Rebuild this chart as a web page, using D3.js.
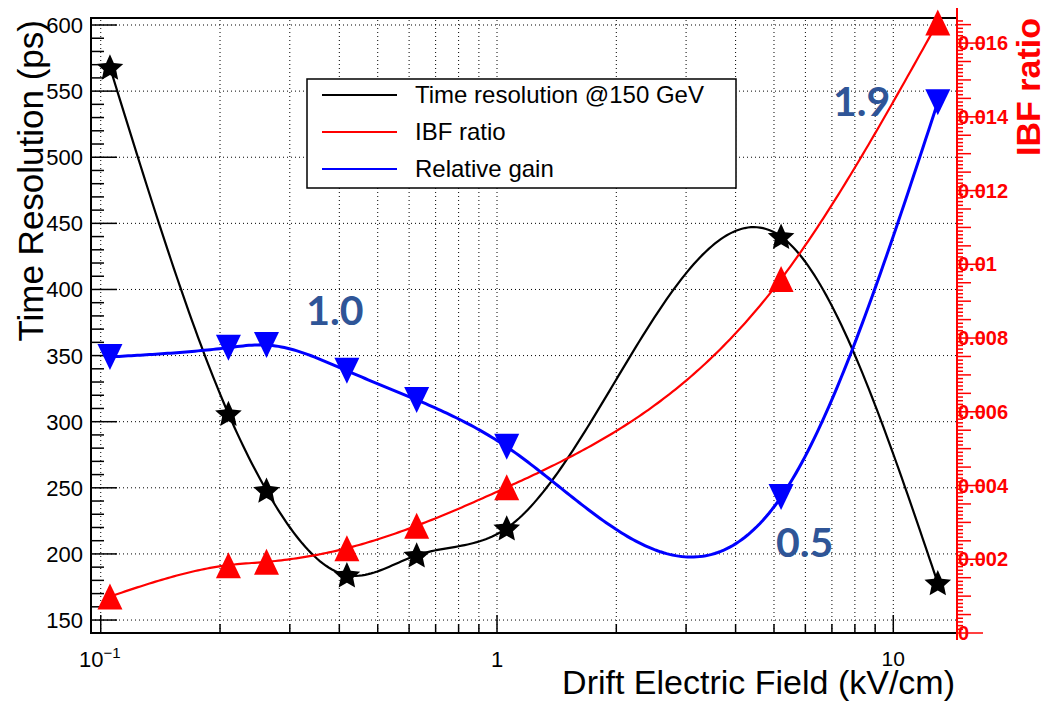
<!DOCTYPE html>
<html>
<head>
<meta charset="utf-8">
<script src="https://cdn.jsdelivr.net/npm/d3@7"></script>
<style>
  body { margin: 0; background: #fff; }
  svg { display: block; font-family: "Liberation Sans", Arial, sans-serif; }
</style>
</head>
<body>
<div id="chart"></div>
<script>
// drift field (kV/cm), same for all three graphs
const field = [0.1055, 0.21, 0.262, 0.418, 0.627, 1.058, 5.21, 12.95];
// time resolution @150 GeV (ps), left axis
const timeRes = [568, 306, 248, 184, 199, 219.5, 440, 178];
// IBF ratio, right axis
const ibf = [0.00099, 0.00184, 0.00193, 0.00230, 0.00291, 0.00395, 0.0096, 0.01656];
// relative gain, drawn on the left axis scale
const gain = [349, 356, 358, 338.5, 316.5, 281, 243, 541.5];

const leftTicks = [150, 200, 250, 300, 350, 400, 450, 500, 550, 600];
const rightTicks = [0, 0.002, 0.004, 0.006, 0.008, 0.01, 0.012, 0.014, 0.016];
const rightLabels = ["0", "0.002", "0.004", "0.006", "0.008", "0.01", "0.012", "0.014", "0.016"];
const legendNames = ["Time resolution @150 GeV", "IBF ratio", "Relative gain"];
const legendColors = ["#000", "#f00", "#00f"];
// gain ratio annotations (text, field, left-axis value of baseline)
const notes = [
  { text: "1.0", x: 0.33, y: 373 },
  { text: "1.9", x: 7.04, y: 531 },
  { text: "0.5", x: 5.06, y: 198 }
];

const W = 1053, H = 702;
const L = 91, R = 957, T = 18, B = 633;

const svg = d3.select("#chart").append("svg")
    .attr("width", W)
    .attr("height", H);

const x = d3.scaleLog().domain([0.0945, 14.48]).range([L, R]);
const yL = d3.scaleLinear().domain([140.2, 605.3]).range([B, T]);
const yR = d3.scaleLinear().domain([0, 0.01668]).range([B, T]);

// natural cubic spline of y against x, in screen space (like ROOT's "C" option)
function smooth(pts) {
    let n = pts.length;
    let h = [], M = new Array(n).fill(0);
    for (let i = 0; i < n - 1; i++) h.push(pts[i + 1][0] - pts[i][0]);
    // tridiagonal solve
    let a = [], b = [], c = [], r = [];
    for (let i = 1; i < n - 1; i++) {
        a.push(h[i - 1]);
        b.push(2 * (h[i - 1] + h[i]));
        c.push(h[i]);
        r.push(6 * ((pts[i + 1][1] - pts[i][1]) / h[i] - (pts[i][1] - pts[i - 1][1]) / h[i - 1]));
    }
    let m = b.length;
    for (let i = 1; i < m; i++) {
        let w = a[i] / b[i - 1];
        b[i] -= w * c[i - 1];
        r[i] -= w * r[i - 1];
    }
    let sol = new Array(m);
    sol[m - 1] = r[m - 1] / b[m - 1];
    for (let i = m - 2; i >= 0; i--) sol[i] = (r[i] - c[i] * sol[i + 1]) / b[i];
    for (let i = 0; i < m; i++) M[i + 1] = sol[i];

    let out = [];
    for (let i = 0; i < n - 1; i++) {
        let hi = h[i];
        let bi = (pts[i + 1][1] - pts[i][1]) / hi - hi * (2 * M[i] + M[i + 1]) / 6;
        let steps = Math.max(4, Math.round(hi / 3));
        for (let k = 0; k < steps; k++) {
            let t = hi * k / steps;
            out.push([pts[i][0] + t,
                pts[i][1] + bi * t + M[i] / 2 * t * t + (M[i + 1] - M[i]) / (6 * hi) * t * t * t]);
        }
    }
    out.push(pts[n - 1]);
    return out;
}

// x ticks: decades and their minors
let xMajor = [0.1, 1, 10];
let xMinor = [];
[0.1, 1].forEach(d => { for (let k = 2; k <= 9; k++) xMinor.push(d * k); });
let xAll = xMajor.concat(xMinor);

// grid
const grid = svg.append("g")
    .attr("stroke", "#000")
    .attr("stroke-width", 1)
    .attr("stroke-dasharray", "1,3");
grid.selectAll(".gx").data(xAll).enter().append("line")
    .attr("x1", d => x(d)).attr("x2", d => x(d))
    .attr("y1", B).attr("y2", T);
grid.selectAll(".gy").data(leftTicks).enter().append("line")
    .attr("x1", L).attr("x2", R)
    .attr("y1", d => yL(d)).attr("y2", d => yL(d));

// frame
svg.append("rect")
    .attr("x", L).attr("y", T)
    .attr("width", R - L).attr("height", B - T)
    .attr("fill", "none")
    .attr("stroke", "#000")
    .attr("stroke-width", 2);

// left axis ticks
const lt = svg.append("g").attr("stroke", "#000").attr("stroke-width", 1.5);
lt.selectAll(".maj").data(leftTicks).enter().append("line")
    .attr("x1", L).attr("x2", L + 26)
    .attr("y1", d => yL(d)).attr("y2", d => yL(d));
lt.selectAll(".min").data(d3.range(150, 601, 10).filter(v => v % 50)).enter().append("line")
    .attr("x1", L).attr("x2", L + 13)
    .attr("y1", d => yL(d)).attr("y2", d => yL(d));
svg.selectAll(".ylab").data(leftTicks).enter().append("text")
    .attr("x", L - 8)
    .attr("y", d => yL(d))
    .attr("dy", "0.36em")
    .attr("text-anchor", "end")
    .attr("font-size", 22)
    .attr("fill", "#000")
    .text(d => d);

// bottom axis ticks
const bt = svg.append("g").attr("stroke", "#000").attr("stroke-width", 1.5);
bt.selectAll(".maj").data(xMajor).enter().append("line")
    .attr("x1", d => x(d)).attr("x2", d => x(d))
    .attr("y1", B).attr("y2", B - 18);
bt.selectAll(".min").data(xMinor).enter().append("line")
    .attr("x1", d => x(d)).attr("x2", d => x(d))
    .attr("y1", B).attr("y2", B - 9);

// bottom tick labels
const t01 = svg.append("text")
    .attr("x", x(0.1) - 1).attr("y", 667)
    .attr("text-anchor", "middle")
    .attr("font-size", 22);
t01.append("tspan").text("10");
t01.append("tspan").attr("font-size", 15).attr("dy", -9).text("\u22121");
svg.append("text")
    .attr("x", x(1)).attr("y", 667)
    .attr("text-anchor", "middle")
    .attr("font-size", 22)
    .text("1");
svg.append("text")
    .attr("x", x(10)).attr("y", 666)
    .attr("text-anchor", "middle")
    .attr("font-size", 21)
    .text("10");

// axis titles
svg.append("text")
    .attr("x", 955).attr("y", 694)
    .attr("text-anchor", "end")
    .attr("font-size", 34)
    .text("Drift Electric Field (kV/cm)");
svg.append("text")
    .attr("transform", "translate(43,20) rotate(-90)")
    .attr("text-anchor", "end")
    .attr("font-size", 35)
    .text("Time Resolution (ps)");

// curves
const line = d3.line();
const ptsL = vals => smooth(vals.map((d, i) => [x(field[i]), yL(d)]));
const ptsR = vals => smooth(vals.map((d, i) => [x(field[i]), yR(d)]));

svg.append("path").attr("d", line(ptsL(timeRes)))
    .attr("fill", "none").attr("stroke", "#000").attr("stroke-width", 2.2);
svg.append("path").attr("d", line(ptsR(ibf)))
    .attr("fill", "none").attr("stroke", "#f00").attr("stroke-width", 2.2);
svg.append("path").attr("d", line(ptsL(gain)))
    .attr("fill", "none").attr("stroke", "#00f").attr("stroke-width", 3);

// markers
function starPath(ro, ri) {
    let p = [];
    for (let k = 0; k < 10; k++) {
        let a = -Math.PI / 2 + k * Math.PI / 5;
        let rr = k % 2 ? ri : ro;
        p.push([rr * Math.cos(a), rr * Math.sin(a)]);
    }
    return "M" + p.map(q => q[0].toFixed(2) + "," + q[1].toFixed(2)).join("L") + "Z";
}
const star = starPath(14, 6.6);
svg.selectAll(".star").data(timeRes).enter().append("path")
    .attr("d", star)
    .attr("transform", (d, i) => `translate(${x(field[i])},${yL(d) + 1})`)
    .attr("fill", "#000");

const up = "M0,-13L12.5,13L-12.5,13Z";
const down = "M0,13L12.5,-13L-12.5,-13Z";
svg.selectAll(".up").data(ibf).enter().append("path")
    .attr("d", up)
    .attr("transform", (d, i) => `translate(${x(field[i])},${yR(d)})`)
    .attr("fill", "#f00");
svg.selectAll(".down").data(gain).enter().append("path")
    .attr("d", down)
    .attr("transform", (d, i) => `translate(${x(field[i])},${yL(d)})`)
    .attr("fill", "#00f");

// right axis (IBF ratio)
const ra = svg.append("g").attr("stroke", "#f00").attr("stroke-width", 1.5);
ra.append("line").attr("x1", R).attr("x2", R).attr("y1", 8).attr("y2", 640).attr("stroke-width", 2);
const rMinor = d3.range(0, 167).map(k => k * 0.0001);
ra.selectAll(".rmin").data(rMinor).enter().append("line")
    .attr("x1", R)
    .attr("x2", (d, i) => R + (i % 20 === 0 ? 26 : (i % 5 === 0 ? 14 : 6)))
    .attr("y1", d => yR(d)).attr("y2", d => yR(d));
svg.selectAll(".rlab").data(rightTicks).enter().append("text")
    .attr("x", R + 1)
    .attr("y", d => yR(d))
    .attr("dy", "0.36em")
    .attr("font-size", 20)
    .attr("font-weight", "bold")
    .attr("fill", "#f00")
    .text((d, i) => rightLabels[i]);
svg.append("text")
    .attr("transform", "translate(1040,18) rotate(-90)")
    .attr("text-anchor", "end")
    .attr("font-size", 34)
    .attr("font-weight", "bold")
    .attr("fill", "#f00")
    .text("IBF ratio");

// legend
const lg = svg.append("g");
lg.append("rect")
    .attr("x", 307).attr("y", 79)
    .attr("width", 429).attr("height", 109)
    .attr("fill", "#fff")
    .attr("stroke", "#000")
    .attr("stroke-width", 1.5);
const rows = lg.selectAll(".row").data(legendNames).enter().append("g")
    .attr("transform", (d, i) => `translate(0,${95 + i * 37})`);
rows.append("line")
    .attr("x1", 322).attr("x2", 397)
    .attr("stroke", (d, i) => legendColors[i])
    .attr("stroke-width", 2);
rows.append("text")
    .attr("x", 415)
    .attr("dy", "0.35em")
    .attr("font-size", 24)
    .text(d => d);

// gain annotations
svg.selectAll(".note").data(notes).enter().append("text")
    .attr("x", d => x(d.x))
    .attr("y", d => yL(d.y))
    .attr("font-family", "Lato, 'Open Sans', sans-serif")
    .attr("font-weight", "bold")
    .attr("font-size", 41)
    .attr("fill", "#2f5597")
    .text(d => d.text);
</script>
</body>
</html>
